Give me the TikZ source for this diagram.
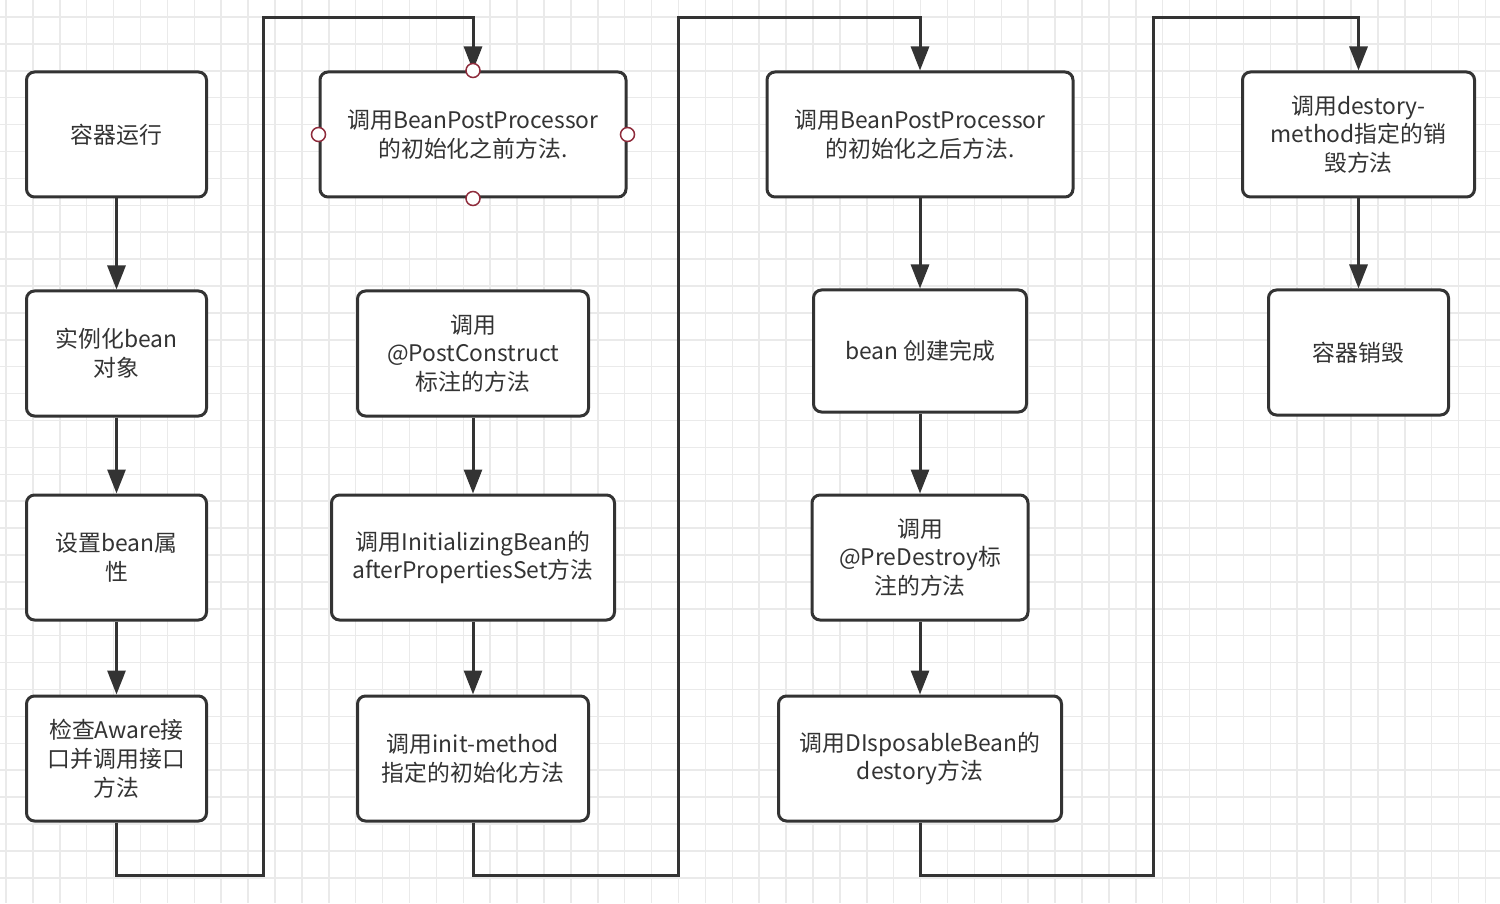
\documentclass[tikz,border=0pt]{standalone}
\usepackage{fontspec}
\setmainfont{Noto Sans CJK SC}
\usepackage{xcolor}
\usepackage{tikz}
\usetikzlibrary{arrows.meta,
positioning}

\definecolor{ink}{HTML}{333333}
\definecolor{handlered}{HTML}{8E2B3B}
\definecolor{gridgray}{HTML}{EAEAEA}

\begin{document}
\begin{tikzpicture}[
		node distance=1.82cm,
		>={Triangle[length=0.48cm,width=0.36cm]},
		stepbox/.style={
			draw=ink,
			line width=0.06cm,
			rounded corners=0.16cm,
			fill=white,
			align=center,
			text=ink,
			minimum width=3.6cm,
			minimum height=2.5cm,
			inner sep=2pt,
			font=\fontsize{13}{16.4}\selectfont
		},
		link/.style={
			draw=ink,
			line width=0.06cm
		},
		gridline/.style={
			draw=gridgray,
			line width=0.03cm
		},
		grip/.style={
			circle,
			draw=handlered,
			line width=0.03cm,
			fill=white,
			inner sep=0pt,
			minimum size=0.28cm
		}
		]
		
		% Background grid
		\useasboundingbox (0,0) rectangle (30,18.06);
		\fill[white] (0,0) rectangle (30,18.06);
		\foreach \i in {0,...,55}
			\draw[gridline] ({0.12+0.538*\i},0) -- ({0.12+0.538*\i},18.06);
		\foreach \j in {0,...,33}
			\draw[gridline] (0,{17.72-0.538*\j}) -- (30,{17.72-0.538*\j});
		
		% Column 1: start up
		\node[stepbox] (run) at (2.33,15.37) {容器运行};
		\node[stepbox, below=1.82cm of run] (inst) {实例化bean\\对象};
		\node[stepbox, below=1.52cm of inst] (props) {设置bean属\\性};
		\node[stepbox, below=1.46cm of props] (aware) {检查Aware接\\口并调用接口\\方法};
		
		% Column 2: initialisation
		\node[stepbox, minimum width=6.12cm] (before) at (9.46,15.37)
		{调用BeanPostProcessor\\的初始化之前方法.};
		\node[stepbox, minimum width=4.62cm, below=1.82cm of before] (postc)
		{调用\\@PostConstruct\\标注的方法};
		\node[stepbox, minimum width=5.66cm, below=1.52cm of postc] (initbean)
		{调用InitializingBean的\\afterPropertiesSet方法};
		\node[stepbox, minimum width=4.62cm, below=1.46cm of initbean] (initm)
		{调用init-method\\指定的初始化方法};
		
		% Column 3: ready and destroy
		\node[stepbox, minimum width=6.12cm] (after) at (18.4,15.37)
		{调用BeanPostProcessor\\的初始化之后方法.};
		\node[stepbox, minimum width=4.26cm, minimum height=2.44cm, below=1.80cm of after] (ready)
		{bean 创建完成};
		\node[stepbox, minimum width=4.32cm, below=1.60cm of ready] (predes)
		{调用\\@PreDestroy标\\注的方法};
		\node[stepbox, minimum width=5.66cm, below=1.46cm of predes] (dispose)
		{调用DIsposableBean的\\destory方法};
		
		% Column 4: shut down
		\node[stepbox, minimum width=4.64cm] (destroym) at (27.17,15.37)
		{调用destory-\\method指定的销\\毁方法};
		\node[stepbox, below=1.80cm of destroym] (stop) {容器销毁};
		
		% Connections inside the columns
		\draw[link,->] (run) -- (inst);
		\draw[link,->] (inst) -- (props);
		\draw[link,->] (props) -- (aware);
		
		\draw[link,->] (postc) -- (initbean);
		\draw[link,->] (initbean) -- (initm);
		
		\draw[link,->] (after) -- (ready);
		\draw[link,->] (ready) -- (predes);
		\draw[link,->] (predes) -- (dispose);
		
		\draw[link,->] (destroym) -- (stop);
		
		% Connections between the columns
		\coordinate (lowA) at (5.26,0.56);
		\coordinate (highA) at (5.26,17.70);
		\coordinate (lowB) at (13.56,0.56);
		\coordinate (highB) at (13.56,17.70);
		\coordinate (lowC) at (23.06,0.56);
		\coordinate (highC) at (23.06,17.70);
		
		\draw[link,->] (aware.south) |- (lowA) -- (highA) -| (before.north);
		\draw[link,->] (initm.south) |- (lowB) -- (highB) -| (after.north);
		\draw[link,->] (dispose.south) |- (lowC) -- (highC) -| (destroym.north);
		
		% Selection handles
		\foreach \a in {north,south,east,west}
			\node[grip] (before-\a) at (before.\a) {};
		
	\end{tikzpicture}
\end{document}
